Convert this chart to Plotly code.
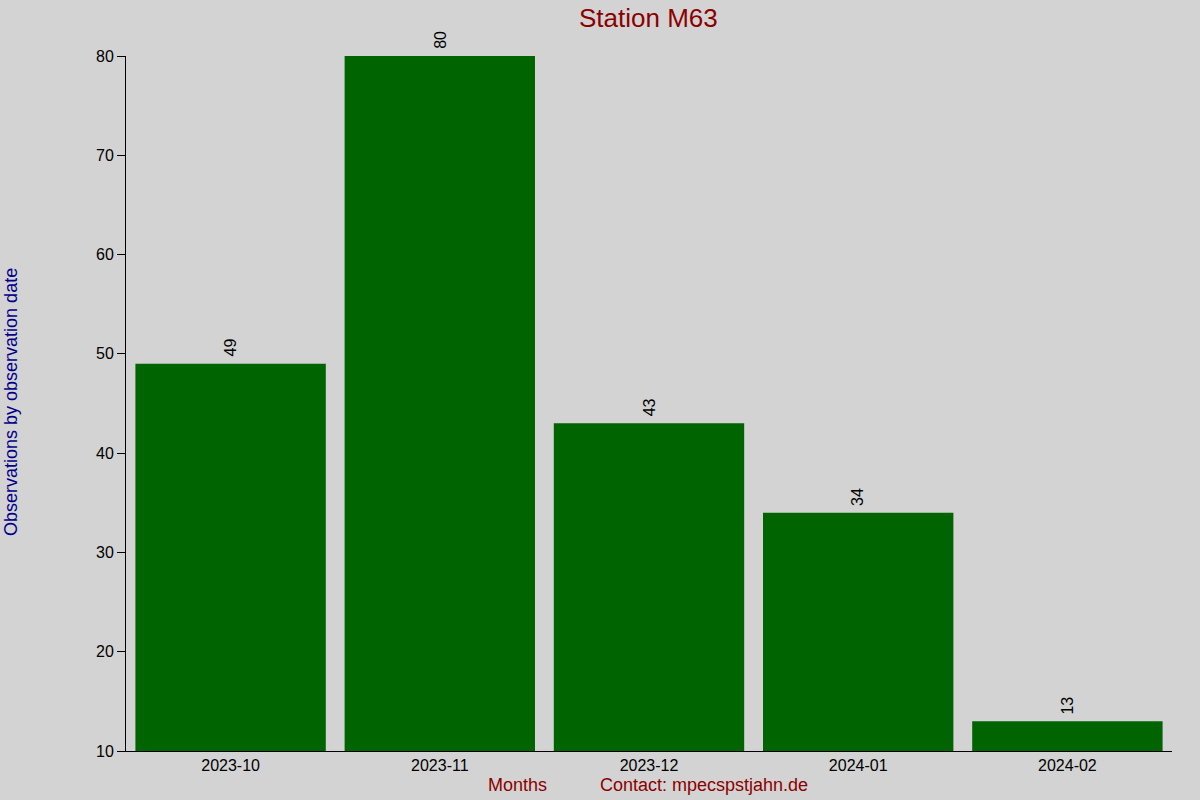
import plotly.graph_objects as go

months = ["2023-10", "2023-11", "2023-12", "2024-01", "2024-02"]
observations = [49, 80, 43, 34, 13]
y_ticks = [10, 20, 30, 40, 50, 60, 70, 80]

FONT = "Liberation Sans, Arial, sans-serif"

plot_l, plot_r, plot_t, plot_b = 126, 1172, 56, 751
pw, ph = plot_r - plot_l, plot_b - plot_t


def px(xp):
    return (xp - plot_l) / pw


def py(yp):
    return (plot_b - yp) / ph


fig = go.Figure()
fig.add_trace(go.Bar(
    x=months,
    y=observations,
    marker=dict(color="#006400", line=dict(width=0)),
    width=0.91,
    hoverinfo="x+y",
))

annotations = [
    dict(text="Station M63", xref="paper", yref="paper", x=px(648), y=py(18),
         xanchor="center", yanchor="middle", showarrow=False,
         font=dict(family=FONT, size=26, color="#8B0000")),
    dict(text="Observations by observation date", xref="paper", yref="paper",
         x=px(11), y=py(402), xanchor="center", yanchor="middle",
         showarrow=False, textangle=-90,
         font=dict(family=FONT, size=18, color="#00008B")),
    dict(text="Months", xref="paper", yref="paper", x=px(517), y=py(785),
         xanchor="center", yanchor="middle", showarrow=False,
         font=dict(family=FONT, size=18, color="#8B0000")),
    dict(text="Contact: mpecspstjahn.de", xref="paper", yref="paper",
         x=px(704), y=py(785), xanchor="center", yanchor="middle",
         showarrow=False, font=dict(family=FONT, size=18, color="#8B0000")),
]
for m, v in zip(months, observations):
    annotations.append(dict(
        text=str(v), x=m, y=v, xref="x", yref="y",
        xanchor="center", yanchor="bottom", yshift=5,
        showarrow=False, textangle=-90,
        font=dict(family=FONT, size=16, color="black"),
    ))

fig.update_layout(
    width=1200, height=800,
    paper_bgcolor="#D3D3D3",
    plot_bgcolor="#D3D3D3",
    margin=dict(l=plot_l, r=1200 - plot_r, t=plot_t, b=800 - plot_b),
    showlegend=False,
    font=dict(family=FONT, size=16, color="black"),
    xaxis=dict(
        type="category",
        range=[-0.5, 4.5],
        showgrid=False,
        zeroline=False,
        showline=True,
        linecolor="black",
        linewidth=1,
        ticks="",
        tickfont=dict(family=FONT, size=16, color="black"),
    ),
    yaxis=dict(
        range=[10, 80],
        tickvals=y_ticks,
        showgrid=False,
        zeroline=False,
        showline=True,
        linecolor="black",
        linewidth=1,
        ticks="outside",
        ticklen=8,
        tickcolor="black",
        tickfont=dict(family=FONT, size=16, color="black"),
    ),
    annotations=annotations,
)

fig.write_html(
    "out.html",
    config={"displayModeBar": False},
    post_script="document.body.style.margin='0';document.body.style.padding='0';",
)
